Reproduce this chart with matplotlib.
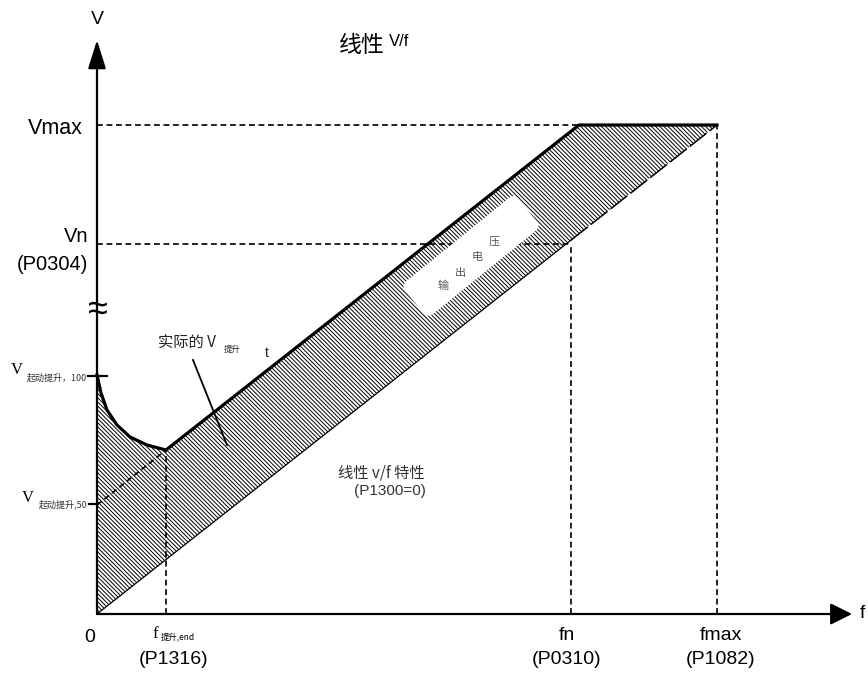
import numpy as np
import matplotlib
matplotlib.use("Agg")
import matplotlib.pyplot as plt

# ---------------- data (diagram units: 1 unit ~ 1 px) ----------------
f_end, f_n, f_max = 69, 474, 620
V_max, V_n, V_boost100, V_boost50 = 489, 370, 239, 109
f_corner = 482                      # upper line reaches Vmax here
boost_f = [0, 2, 4, 10, 20, 33, 50, 69]
boost_V = [239, 230, 221, 204, 189, 177, 169, 164]
lower_f = [0, f_max]
lower_V = [0, V_max]
upper_f = boost_f + [f_corner, f_max]
upper_V = boost_V + [V_max, V_max]
x_ticks = ["0", "fn", "fmax"]
x_params = ["(P1316)", "(P0310)", "(P1082)"]

CJK = ["Noto Sans CJK SC", "DejaVu Sans"]
SANS = ["Liberation Sans", "Noto Sans CJK SC"]
SERIF = ["Liberation Serif", "Noto Sans CJK SC"]
plt.rcParams["hatch.linewidth"] = 0.7

fig = plt.figure(figsize=(8.68, 6.73), dpi=100)
ax = fig.add_axes([0, 0, 1, 1])
ax.set_xlim(-97, 771)
ax.set_ylim(-59, 614)
ax.axis("off")

# hatched output-voltage band
grid_f = np.array(upper_f, dtype=float)
up = np.interp(grid_f, upper_f, upper_V)
lo = np.interp(grid_f, lower_f, lower_V)
ax.fill_between(grid_f, lo, up, facecolor="none", edgecolor="black",
                hatch="\\" * 8, linewidth=0, zorder=1)

# dashed guide lines
dkw = dict(color="black", lw=1.2, dashes=(3.5, 2.2), zorder=2)
ax.plot([0, f_max], [V_max, V_max], **dkw)
ax.plot([0, f_n], [V_n, V_n], **dkw)
ax.plot([f_n, f_n], [0, V_n], **dkw)
ax.plot([f_max, f_max], [0, V_max], **dkw)
ax.plot([f_end, f_end], [0, boost_V[-1]], **dkw)
ax.plot([0, f_end], [V_boost50, boost_V[-1]], **dkw)

# white blob with text "输出电压"
blob_x, blob_y = 471 - 97, 614 - 256
ax.text(blob_x, blob_y, "　" * 7, rotation=39, ha="center", va="center",
        family=CJK, fontsize=12.5,
        bbox=dict(boxstyle="round,pad=0.7,rounding_size=0.4", fc="white", ec="none"),
        zorder=3)
for ch, (px, py) in zip("输出电压", [(443, 286), (460, 273), (477, 257), (494, 242)]):
    ax.text(px - 97, 614 - py, ch, family=CJK, fontsize=8, color="#555555",
            ha="center", va="center", zorder=4)

# lower (linear V/f) line: solid, then broken
V_at_fn = np.interp(f_n, lower_f, lower_V)
ax.plot([0, f_n], [0, V_at_fn], color="black", lw=0.9, zorder=2)
ax.plot([f_n, f_max], [V_at_fn, V_max], color="black", lw=1.1,
        dashes=(14, 2.5), zorder=2)

# upper (actual) boundary
ax.plot(upper_f, upper_V, color="black", lw=2.3, solid_joinstyle="round", zorder=5)

# axes with arrows
ax.annotate("", xy=(0, 574), xytext=(0, 0),
            arrowprops=dict(arrowstyle="-|>,head_length=0.8,head_width=0.25",
                            lw=1.6, color="black", mutation_scale=22, shrinkA=0, shrinkB=0),
            zorder=6)
ax.annotate("", xy=(755, 0), xytext=(0, 0),
            arrowprops=dict(arrowstyle="-|>,head_length=0.6,head_width=0.3",
                            lw=1.6, color="black", mutation_scale=22, shrinkA=0, shrinkB=0),
            zorder=6)

# ticks on V axis
ax.plot([-9, 10], [V_boost100 - 1, V_boost100 - 1], color="black", lw=1.6, zorder=6)
ax.plot([-8, 0], [V_boost50 + 1, V_boost50 + 1], color="black", lw=1.6, zorder=6)

# axis break
ax.text(1, 614 - 310, "≈", fontsize=26, ha="center", va="center",
        family=["Liberation Sans"], zorder=7)

# pointer for actual boost
ax.plot([193 - 97, 227 - 97], [614 - 360, 614 - 445], color="black", lw=1.3, zorder=6)

# ---------------- texts ----------------
ax.text(0, 614 - 19, "V", fontsize=14, family=SANS, ha="center", va="center")
ax.text(265, 614 - 46, "线性", fontsize=16.5, family=CJK, ha="center", va="center")
ax.text(292, 614 - 41, "V/f", fontsize=12, family=SANS, ha="left", va="center")

ax.text(-14, V_max - 3, "Vmax", fontsize=15.5, family=SANS, ha="right", va="center")
ax.text(-9, V_n + 7, "Vn", fontsize=14.5, family=SANS, ha="right", va="center")
ax.text(-9, V_n - 21, "(P0304)", fontsize=14.5, family=SANS, ha="right", va="center")

ax.text(-80, V_boost100 + 5, "V", fontsize=12, family=SERIF, ha="center", va="center")
ax.text(-10, V_boost100 - 3, "起动提升，100", fontsize=6.5, family=CJK,
        color="#333333", ha="right", va="center")
ax.text(-69, V_boost50 + 7, "V", fontsize=12, family=SERIF, ha="center", va="center")
ax.text(-9, V_boost50 + 1, "起动提升,50", fontsize=6.5, family=CJK,
        color="#333333", ha="right", va="center")

ax.text(158 - 97, 614 - 343, "实际的 V", fontsize=11, family=CJK,
        color="#222222", ha="left", va="center")
ax.text(224 - 97, 614 - 349, "提升", fontsize=6, family=CJK,
        color="#222222", ha="left", va="center")
ax.text(267 - 97, 614 - 353, "t", fontsize=10, family=SANS,
        color="#222222", ha="center", va="center")

ax.text(381 - 97, 614 - 473, "线性 v/f 特性", fontsize=11, family=CJK,
        color="#333333", ha="center", va="center")
ax.text(426 - 97, 614 - 491, "(P1300=0)", fontsize=11, family=SANS,
        color="#333333", ha="right", va="center")

ax.text(755 + 8, 0, "f", fontsize=14, family=SANS, ha="left", va="center")

ax.text(-7, -24, x_ticks[0], fontsize=14, family=SANS, ha="center", va="center")
ax.text(f_end - 14, -20, "f", fontsize=12, family=SERIF, ha="left", va="center")
ax.text(f_end - 5, -23, "提升,end", fontsize=6, family=CJK, ha="left", va="center")
ax.text(f_end + 8, -46, x_params[0], fontsize=14, family=SANS, ha="center", va="center")
ax.text(f_n - 4, -22, x_ticks[1], fontsize=14, family=SANS, ha="center", va="center")
ax.text(f_n - 4, -46, x_params[1], fontsize=14, family=SANS, ha="center", va="center")
ax.text(f_max + 4, -22, x_ticks[2], fontsize=14, family=SANS, ha="center", va="center")
ax.text(f_max + 4, -46, x_params[2], fontsize=14, family=SANS, ha="center", va="center")

fig.savefig("out.png", dpi=100)
